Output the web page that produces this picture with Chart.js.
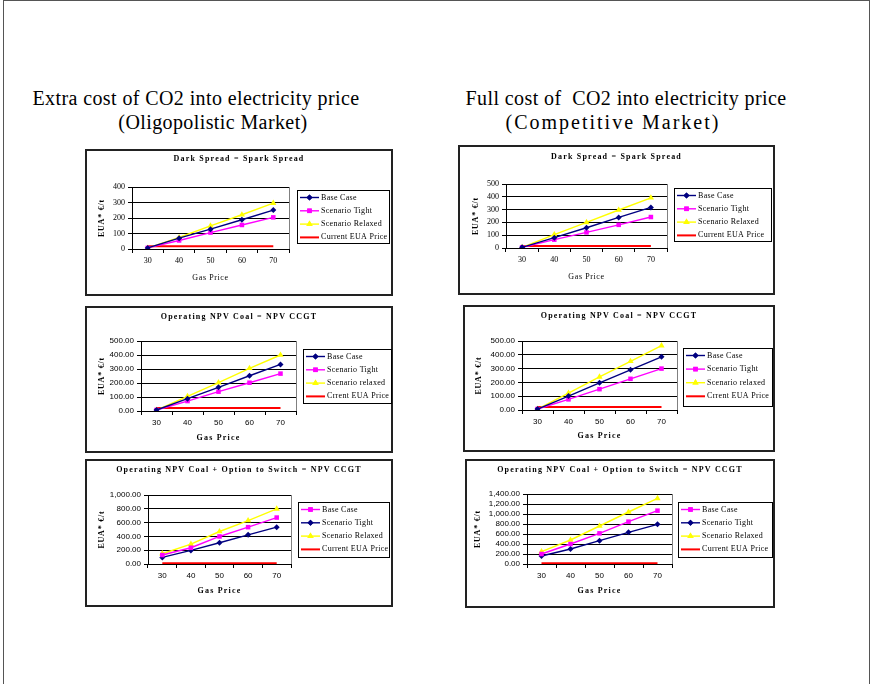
<!DOCTYPE html>
<html>
<head>
<meta charset="utf-8">
<script src="https://cdn.jsdelivr.net/npm/chart.js@4.4.1/dist/chart.umd.min.js"></script>
<style>
  html, body { margin: 0; padding: 0; background: #fff; }
  body { width: 872px; height: 684px; position: relative; overflow: hidden; }
  #frame { position: absolute; left: 3px; top: 0; width: 865px; height: 720px; border: 1px solid #555; }
  .hd { position: absolute; font-family: "Liberation Serif", serif; font-size: 20px; letter-spacing: 0.4px;
        color: #000; text-align: center; line-height: 24px; white-space: pre; width: 400px; }
  canvas { position: absolute; }
</style>
</head>
<body>
<div id="frame"></div>
<div class="hd" style="left:-4px;top:86px">Extra cost of CO2 into electricity price</div>
<div class="hd" style="left:13px;top:110px">(Oligopolistic Market)</div>
<div class="hd" style="left:426px;top:86px">Full cost of  CO2 into electricity price</div>
<div class="hd" style="left:413px;top:110px;letter-spacing:2px">(Competitive Market)</div>

<canvas id="c1"></canvas>
<canvas id="c2"></canvas>
<canvas id="c3"></canvas>
<canvas id="c4"></canvas>
<canvas id="c5"></canvas>
<canvas id="c6"></canvas>

<script>
// ---- data ----
const gasPrice = ['30', '40', '50', '60', '70'];

// Dark Spread = Spark Spread
const dsOligBase    = [7, 70, 128, 189, 251];
const dsOligTight   = [7, 55, 106, 155, 204];
const dsOligRelaxed = [6, 74, 149, 221, 296];
const dsOligEua     = [18, 18, 18, 18, 18];

const dsCompBase    = [5, 81, 158, 239, 317];
const dsCompTight   = [5, 65, 122, 181, 242];
const dsCompRelaxed = [5, 105, 200, 297, 392];
const dsCompEua     = [15, 15, 15, 15, 15];

// Operating NPV Coal = NPV CCGT
const npvOligBase    = [7, 88, 169, 252, 333];
const npvOligTight   = [7, 71, 138, 202, 267];
const npvOligRelaxed = [7, 105, 202, 305, 400];
const npvOligEua     = [21, 21, 21, 21, 21];

const npvCompBase    = [7, 101, 197, 291, 385];
const npvCompTight   = [7, 77, 151, 226, 300];
const npvCompRelaxed = [7, 123, 240, 353, 466];
const npvCompEua     = [22, 22, 22, 22, 22];

// Operating NPV Coal + Option to Switch = NPV CCGT
const optOligBase    = [130, 236, 399, 534, 673];
const optOligTight   = [96, 197, 308, 423, 534];
const optOligRelaxed = [149, 288, 471, 630, 798];
const optOligEua     = [10, 10, 10, 10, 10];

const optCompBase    = [200, 400, 613, 847, 1067];
const optCompTight   = [160, 300, 467, 633, 793];
const optCompRelaxed = [247, 480, 760, 1040, 1313];
const optCompEua     = [13, 13, 13, 13, 13];

// y-axis tick labels
const yTicks400  = ['0', '100', '200', '300', '400'];
const yTicks500  = ['0', '100', '200', '300', '400', '500'];
const yTicks500d = ['0.00', '100.00', '200.00', '300.00', '400.00', '500.00'];
const yTicks1000 = ['0.00', '200.00', '400.00', '600.00', '800.00', '1,000.00'];
const yTicks1400 = ['0.00', '200.00', '400.00', '600.00', '800.00', '1,000.00', '1,200.00', '1,400.00'];

// ---- styling ----
const NAVY = '#000080', MAGENTA = '#FF00FF', YELLOW = '#FFFF00', RED = '#FF0000';
const SERIF = '"Liberation Serif", "Times New Roman", serif';
const SANS = '"Liberation Sans", Arial, sans-serif';

function series(label, values, color, style, radius) {
  return {
    label, data: values,
    borderColor: color, backgroundColor: color,
    pointBackgroundColor: color, pointBorderColor: color,
    pointStyle: style, pointRadius: radius, pointBorderWidth: 0,
    borderWidth: 1.4, tension: 0
  };
}
function euaLine(label, values) {
  return { label, data: values, borderColor: RED, backgroundColor: RED,
           pointRadius: 0, borderWidth: 2, tension: 0, pointStyle: false };
}

// frame, titles and boxed legend
const panelDecor = {
  id: 'panelDecor',
  beforeDraw(chart) {
    const { ctx, width, height } = chart;
    ctx.save();
    ctx.fillStyle = '#fff';
    ctx.fillRect(0, 0, width, height);
    ctx.restore();
  },
  afterDraw(chart, args, o) {
    const { ctx, width, height, chartArea: a } = chart;
    ctx.save();
    // plot area right edge
    ctx.strokeStyle = '#808080';
    ctx.lineWidth = 1;
    ctx.beginPath();
    ctx.moveTo(Math.round(a.right) + 0.5, a.top);
    ctx.lineTo(Math.round(a.right) + 0.5, a.bottom);
    ctx.stroke();

    // outer frame
    ctx.strokeStyle = '#222';
    ctx.lineWidth = 2;
    ctx.strokeRect(1, 1, width - 2, height - 2);

    ctx.fillStyle = '#000';
    ctx.textBaseline = 'middle';
    ctx.textAlign = 'center';
    // chart title
    ctx.font = 'bold 8px ' + SERIF;
    ctx.letterSpacing = '1.2px';
    ctx.fillText(o.title, width / 2, o.titleY);
    // x-axis title
    ctx.font = (o.xTitleBold ? 'bold ' : '') + '8px ' + SERIF;
    ctx.letterSpacing = o.xTitleBold ? '1.2px' : '0.6px';
    ctx.fillText('Gas Price', (a.left + a.right) / 2, o.xTitleY);
    // y-axis title
    ctx.font = 'bold 8px ' + SERIF;
    ctx.letterSpacing = '0.8px';
    ctx.save();
    ctx.translate(o.yTitleX, (a.top + a.bottom) / 2);
    ctx.rotate(-Math.PI / 2);
    ctx.fillText('EUA* €/t', 0, 0);
    ctx.restore();

    // legend
    const L = o.legend;
    ctx.letterSpacing = '0.3px';
    ctx.fillStyle = '#fff';
    ctx.fillRect(L.x, L.y, L.w, L.h);
    ctx.strokeStyle = '#000';
    ctx.lineWidth = 1;
    ctx.strokeRect(L.x + 0.5, L.y + 0.5, L.w, L.h);
    ctx.font = '8px ' + SERIF;
    ctx.textAlign = 'left';
    chart.data.datasets.forEach((ds, i) => {
      const y = L.y + 7.5 + i * L.step;
      ctx.strokeStyle = ds.borderColor;
      ctx.lineWidth = ds.borderWidth;
      ctx.beginPath();
      ctx.moveTo(L.x + 3, y);
      ctx.lineTo(L.x + 22, y);
      ctx.stroke();
      if (ds.pointStyle) {
        ctx.fillStyle = ds.pointBackgroundColor;
        Chart.helpers.drawPoint(ctx, { pointStyle: ds.pointStyle, radius: ds.pointRadius, borderWidth: 0, rotation: 0 }, L.x + 12.5, y);
        ctx.fill();
      }
      ctx.fillStyle = '#000';
      ctx.fillText(ds.label, L.x + 24, y);
    });
    ctx.restore();
  }
};

function makePanel(id, spec, datasets, yMax, yStep, yLabels, tickFont) {
  const { box, plot } = spec;
  const cv = document.getElementById(id);
  const w = box.R - box.L, h = box.B - box.T;
  cv.width = w; cv.height = h;
  cv.style.left = box.L + 'px'; cv.style.top = box.T + 'px';
  cv.style.width = w + 'px'; cv.style.height = h + 'px';

  return new Chart(cv, {
    type: 'line',
    data: { labels: gasPrice, datasets },
    plugins: [panelDecor],
    options: {
      responsive: false,
      animation: false,
      devicePixelRatio: 1,
      layout: { padding: { top: plot.t - box.T, right: box.R - plot.r, bottom: 0, left: 0 } },
      plugins: {
        legend: { display: false },
        title: { display: false },
        tooltip: { enabled: false },
        panelDecor: {
          title: spec.title,
          titleY: spec.titleY - box.T,
          xTitleY: spec.xTitleY - box.T,
          xTitleBold: spec.xTitleBold,
          yTitleX: spec.yTitleX - box.L,
          legend: { x: spec.legend.x - box.L, y: spec.legend.y - box.T, w: spec.legend.w, h: spec.legend.h, step: spec.legend.step || 13.3 }
        }
      },
      scales: {
        x: {
          type: 'category',
          offset: true,
          afterFit(s) { s.height = box.B - plot.b; },
          grid: { offset: true, drawOnChartArea: false, drawTicks: true, tickLength: 4, color: '#000', lineWidth: 1 },
          border: { color: '#000', width: 1 },
          ticks: { color: '#000', padding: 3, maxRotation: 0, autoSkip: false,
                   font: { family: tickFont, size: 8 } }
        },
        y: {
          min: 0, max: yMax,
          afterFit(s) { s.width = plot.l - box.L; },
          grid: { color: '#000', lineWidth: 1, tickLength: 4, drawTicks: true },
          border: { color: '#000', width: 1 },
          ticks: { stepSize: yStep, color: '#000', padding: 3, autoSkip: false,
                   font: { family: tickFont, size: 8 },
                   callback: (v, i) => yLabels[i] }
        }
      }
    }
  });
}

// ---- panels ----
makePanel('c1', {
  box: { L: 85, T: 149, R: 393, B: 296 }, plot: { l: 132, r: 289, t: 187, b: 249 },
  title: 'Dark Spread = Spark Spread', titleY: 159, xTitleY: 278, xTitleBold: false, yTitleX: 102,
  legend: { x: 297, y: 190, w: 92, h: 53 }
}, [
  series('Base Case', dsOligBase, NAVY, 'rectRot', 3),
  series('Scenario Tight', dsOligTight, MAGENTA, 'rect', 3.2),
  series('Scenario Relaxed', dsOligRelaxed, YELLOW, 'triangle', 3.6),
  euaLine('Current EUA Price', dsOligEua)
], 400, 100, yTicks400, SERIF);

makePanel('c2', {
  box: { L: 458, T: 145, R: 775, B: 295 }, plot: { l: 506, r: 667, t: 184, b: 248 },
  title: 'Dark Spread = Spark Spread', titleY: 157, xTitleY: 277, xTitleBold: false, yTitleX: 476,
  legend: { x: 674, y: 188, w: 97, h: 53 }
}, [
  series('Base Case', dsCompBase, NAVY, 'rectRot', 3),
  series('Scenario Tight', dsCompTight, MAGENTA, 'rect', 3.2),
  series('Scenario Relaxed', dsCompRelaxed, YELLOW, 'triangle', 3.6),
  euaLine('Current EUA Price', dsCompEua)
], 500, 100, yTicks500, SERIF);

makePanel('c3', {
  box: { L: 85, T: 306, R: 393, B: 453 }, plot: { l: 141, r: 296, t: 341, b: 411 },
  title: 'Operating NPV Coal = NPV CCGT', titleY: 317, xTitleY: 438, xTitleBold: true, yTitleX: 102,
  legend: { x: 303, y: 349, w: 88, h: 54 }
}, [
  series('Base Case', npvOligBase, NAVY, 'rectRot', 3),
  series('Scenario Tight', npvOligTight, MAGENTA, 'rect', 3.2),
  series('Scenario relaxed', npvOligRelaxed, YELLOW, 'triangle', 3.6),
  euaLine('Crrent EUA Price', npvOligEua)
], 500, 100, yTicks500d, SANS);

makePanel('c4', {
  box: { L: 463, T: 305, R: 775, B: 452 }, plot: { l: 522, r: 677, t: 341, b: 410 },
  title: 'Operating NPV Coal = NPV CCGT', titleY: 316, xTitleY: 436, xTitleBold: true, yTitleX: 479,
  legend: { x: 683, y: 348, w: 89, h: 58, step: 13.6 }
}, [
  series('Base Case', npvCompBase, NAVY, 'rectRot', 3),
  series('Scenario Tight', npvCompTight, MAGENTA, 'rect', 3.2),
  series('Scenario relaxed', npvCompRelaxed, YELLOW, 'triangle', 3.6),
  euaLine('Crrent EUA Price', npvCompEua)
], 500, 100, yTicks500d, SANS);

makePanel('c5', {
  box: { L: 85, T: 459, R: 393, B: 607 }, plot: { l: 148, r: 291, t: 495, b: 564 },
  title: 'Operating NPV Coal + Option to Switch = NPV CCGT', titleY: 470, xTitleY: 591, xTitleBold: true, yTitleX: 102,
  legend: { x: 298, y: 502, w: 91, h: 55 }
}, [
  series('Base Case', optOligBase, MAGENTA, 'rect', 3.2),
  series('Scenario Tight', optOligTight, NAVY, 'rectRot', 3),
  series('Scenario Relaxed', optOligRelaxed, YELLOW, 'triangle', 3.6),
  euaLine('Current EUA Price', optOligEua)
], 1000, 200, yTicks1000, SANS);

makePanel('c6', {
  box: { L: 465, T: 459, R: 775, B: 608 }, plot: { l: 527, r: 672, t: 494, b: 564 },
  title: 'Operating NPV Coal + Option to Switch = NPV CCGT', titleY: 470, xTitleY: 591, xTitleBold: true, yTitleX: 478,
  legend: { x: 678, y: 502, w: 94, h: 55 }
}, [
  series('Base Case', optCompBase, MAGENTA, 'rect', 3.2),
  series('Scenario Tight', optCompTight, NAVY, 'rectRot', 3),
  series('Scenario Relaxed', optCompRelaxed, YELLOW, 'triangle', 3.6),
  euaLine('Current EUA Price', optCompEua)
], 1400, 200, yTicks1400, SANS);
</script>
</body>
</html>
